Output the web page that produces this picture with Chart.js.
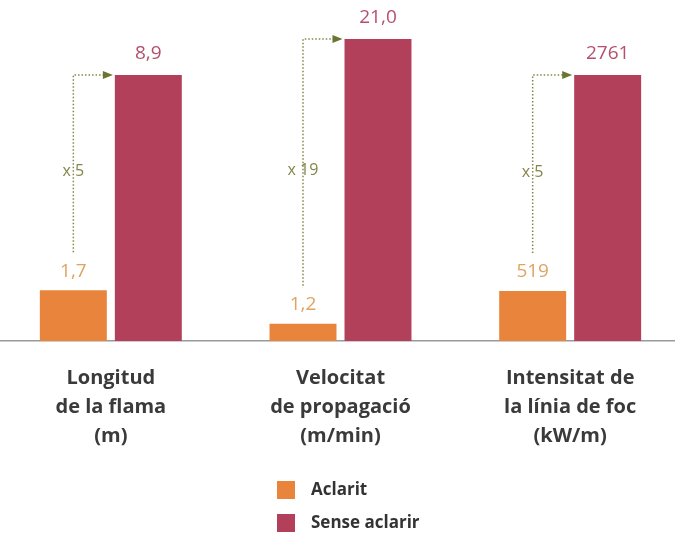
<!DOCTYPE html>
<html>
<head>
<meta charset="utf-8">
<script src="https://cdn.jsdelivr.net/npm/chart.js@4"></script>
<style>
  html, body { margin: 0; padding: 0; background: #fff; overflow: hidden; }
  #wrap { width: 689px; height: 535px; margin-left: -4px; }
</style>
</head>
<body>
<div id="wrap"><canvas id="myChart"></canvas></div>
<script>
// each group has its own value scale in the original figure
const categories = [
  ['Longitud', 'de la flama', '(m)'],
  ['Velocitat', 'de propagació', '(m/min)'],
  ['Intensitat de', 'la línia de foc', '(kW/m)']
];
const aclarit = [1.7, 1.2, 519];
const senseAclarir = [8.9, 21.0, 2761];
const decimals = [1, 1, 0];
const groupMax = [10.1, 21.0, 3135];   // top of the (hidden) axis for each group
const ratioLabels = ['x 5', 'x 19', 'x 5'];
const seriesNames = ['Aclarit', 'Sense aclarir'];

const orange = '#e8843c';
const crimson = '#b3405a';
const olive = '#85854a';
const FONT = '"Open Sans", Lato, sans-serif';

function fmt(v, d) {
  return v.toFixed(d).replace('.', ',');
}

const annotations = {
  id: 'annotations',
  afterDatasetsDraw(chart) {
    const c = chart.ctx;
    const m0 = chart.getDatasetMeta(0).data;
    const m1 = chart.getDatasetMeta(1).data;
    c.save();
    c.textAlign = 'center';
    c.textBaseline = 'middle';
    for (let i = 0; i < categories.length; i++) {
      const a = m0[i], b = m1[i];
      // value labels
      c.font = '19px ' + FONT;
      c.fillStyle = '#dfa463';
      c.fillText(fmt(aclarit[i], decimals[i]), a.x, a.y - 19);
      c.fillStyle = '#b4506e';
      c.fillText(fmt(senseAclarir[i], decimals[i]), b.x, b.y - 21);

      // dotted arrow from small bar up and over to big bar
      const top = b.y;
      const bottom = a.y - 38;
      const right = b.x - b.width / 2 - 2;
      c.font = '16px ' + FONT;
      c.fillStyle = olive;
      c.fillText(ratioLabels[i], a.x, (top + bottom) / 2 + 8);

      c.strokeStyle = olive;
      c.lineWidth = 1.5;
      c.setLineDash([1.5, 2]);
      c.beginPath();
      c.moveTo(a.x, bottom);
      c.lineTo(a.x, top);
      c.lineTo(right - 8, top);
      c.stroke();
      c.setLineDash([]);
      c.fillStyle = '#6b7430';
      c.beginPath();
      c.moveTo(right, top);
      c.lineTo(right - 10, top - 4);
      c.lineTo(right - 10, top + 4);
      c.closePath();
      c.fill();
    }
    c.restore();
  },
  afterDraw(chart) {
    // vertical legend under the chart
    const c = chart.ctx;
    c.save();
    c.textBaseline = 'middle';
    c.textAlign = 'left';
    c.font = 'bold 17px ' + FONT;
    chart.data.datasets.forEach((ds, k) => {
      const y = 481 + k * 33;
      c.fillStyle = ds.backgroundColor;
      c.fillRect(281, y, 18, 18);
      c.fillStyle = '#333';
      c.fillText(ds.label, 315, y + 9);
    });
    c.restore();
  }
};

const chart = new Chart(document.getElementById('myChart'), {
  type: 'bar',
  data: {
    labels: categories,
    datasets: [{
      label: seriesNames[0],
      data: aclarit.map((v, i) => v / groupMax[i]),
      backgroundColor: orange
    }, {
      label: seriesNames[1],
      data: senseAclarir.map((v, i) => v / groupMax[i]),
      backgroundColor: crimson
    }]
  },
  options: {
    responsive: true,
    maintainAspectRatio: false,
    animation: false,
    categoryPercentage: 0.653,
    barPercentage: 0.893,
    layout: { padding: { top: 39, bottom: 80 } },
    plugins: {
      legend: { display: false },
      tooltip: { enabled: false }
    },
    scales: {
      x: {
        grid: { display: false, drawTicks: false },
        border: { display: true, color: '#9a9a9a', width: 1.5 },
        ticks: {
          color: '#3a3a3a',
          font: { family: FONT, size: 20, weight: 'bold', lineHeight: 1.45 },
          padding: 23,
          maxRotation: 0,
          autoSkip: false
        },
        afterFit(scale) { scale.height = 114; }
      },
      y: {
        display: false,
        min: 0,
        max: 1
      }
    }
  },
  plugins: [annotations]
});
</script>
</body>
</html>
